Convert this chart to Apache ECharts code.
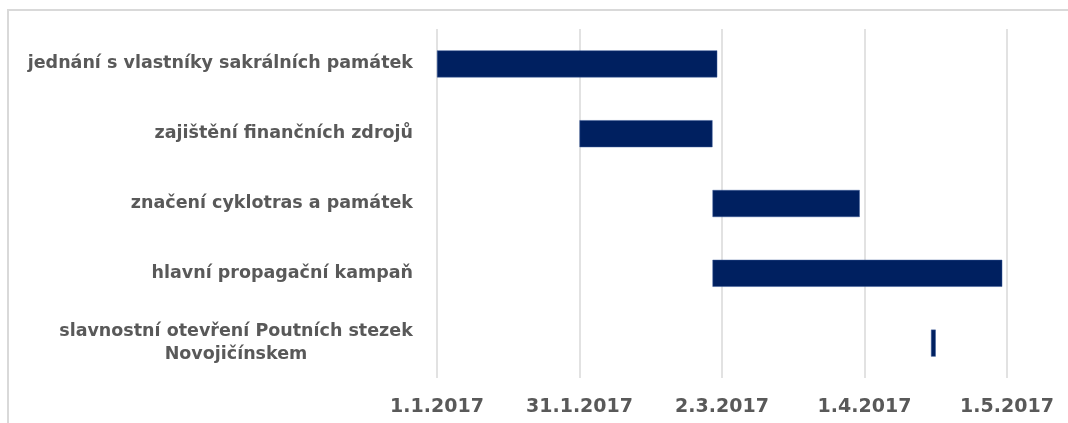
<!DOCTYPE html>
<html>
<head>
<meta charset="utf-8">
<script src="https://cdn.jsdelivr.net/npm/echarts@6/dist/echarts.min.js"></script>
<style>
  html, body { margin: 0; padding: 0; background: #fff; overflow: hidden; width: 1068px; height: 423px; }
  #frame { position: absolute; left: 7px; top: 9px; width: 1061px; height: 414px; border-top: 2px solid #d9d9d9; border-left: 2px solid #d9d9d9; box-sizing: border-box; }
  #chart { position: absolute; left: 0; top: 0; width: 1068px; height: 423px; }
</style>
</head>
<body>
<div id="frame"></div>
<div id="chart"></div>
<script>
// úkoly (shora dolů)
const tasks = [
  'jednání s vlastníky sakrálních památek',
  'zajištění finančních zdrojů',
  'značení cyklotras a památek',
  'hlavní propagační kampaň',
  'slavnostní otevření Poutních stezek\nNovojičínskem'
];
const startDates = ['1.1.2017', '31.1.2017', '28.2.2017', '28.2.2017', '15.4.2017'];
const endDates   = ['1.3.2017', '28.2.2017', '31.3.2017', '30.4.2017', '16.4.2017'];
const axisStart = '1.1.2017';
const axisEnd = '1.5.2017';
const tickDays = 30;

const DAY = 86400000;
function parseDate(s) {
  const [d, m, y] = s.split('.').map(Number);
  return Date.UTC(y, m - 1, d);
}
function dayOffset(s) {
  return Math.round((parseDate(s) - parseDate(axisStart)) / DAY);
}
function fmtDay(v) {
  const dt = new Date(parseDate(axisStart) + v * DAY);
  return dt.getUTCDate() + '.' + (dt.getUTCMonth() + 1) + '.' + dt.getUTCFullYear();
}

const baseVals = startDates.map(dayOffset);
const durVals = startDates.map((s, i) => dayOffset(endDates[i]) - dayOffset(s));

const FONT = 'DejaVu Sans';
const labelSize = 17.5;
const ctx = document.createElement('canvas').getContext('2d');
ctx.font = 'bold ' + labelSize + 'px "' + FONT + '"';
// víceřádkový popisek: řádky vycentrované v bloku zarovnaném doprava
function wrapped(v) {
  const lines = v.split('\n');
  const w = Math.ceil(Math.max(...lines.map(l => ctx.measureText(l).width)));
  return lines.map(l => '{c' + w + '|' + l + '}').join('\n');
}
const rich = {};
tasks.filter(t => t.indexOf('\n') >= 0).forEach(t => {
  const w = Math.ceil(Math.max(...t.split('\n').map(l => ctx.measureText(l).width)));
  rich['c' + w] = {
    width: w, align: 'center',
    color: '#595959', fontFamily: FONT, fontWeight: 'bold',
    fontSize: labelSize, lineHeight: 23
  };
});

const chart = echarts.init(document.getElementById('chart'));
chart.setOption({
  animation: false,
  grid: { left: 437, right: 61, top: 29, bottom: 45 },
  xAxis: {
    type: 'value',
    min: 0,
    max: dayOffset(axisEnd),
    interval: tickDays,
    axisLine: { show: false },
    axisTick: { show: false },
    splitLine: { show: true, lineStyle: { color: '#d9d9d9', width: 1.5 } },
    axisLabel: {
      margin: 20,
      color: '#595959',
      fontFamily: FONT,
      fontWeight: 'bold',
      fontSize: 19,
      formatter: v => fmtDay(v)
    }
  },
  yAxis: {
    type: 'category',
    inverse: true,
    data: tasks,
    axisLine: { show: false },
    axisTick: { show: false },
    axisLabel: {
      margin: 24,
      color: '#595959',
      fontFamily: FONT,
      fontWeight: 'bold',
      fontSize: labelSize,
      lineHeight: 23,
      formatter: v => v.indexOf('\n') >= 0 ? wrapped(v) : v,
      rich: rich
    }
  },
  series: [
    {
      type: 'bar',
      stack: 'g',
      data: baseVals,
      itemStyle: { color: 'transparent' },
      barWidth: 27,
      silent: true
    },
    {
      type: 'bar',
      stack: 'g',
      data: durVals,
      barWidth: 27,
      itemStyle: { color: '#002060', borderColor: '#3a5a99', borderWidth: 0.5 }
    }
  ]
});
</script>
</body>
</html>
